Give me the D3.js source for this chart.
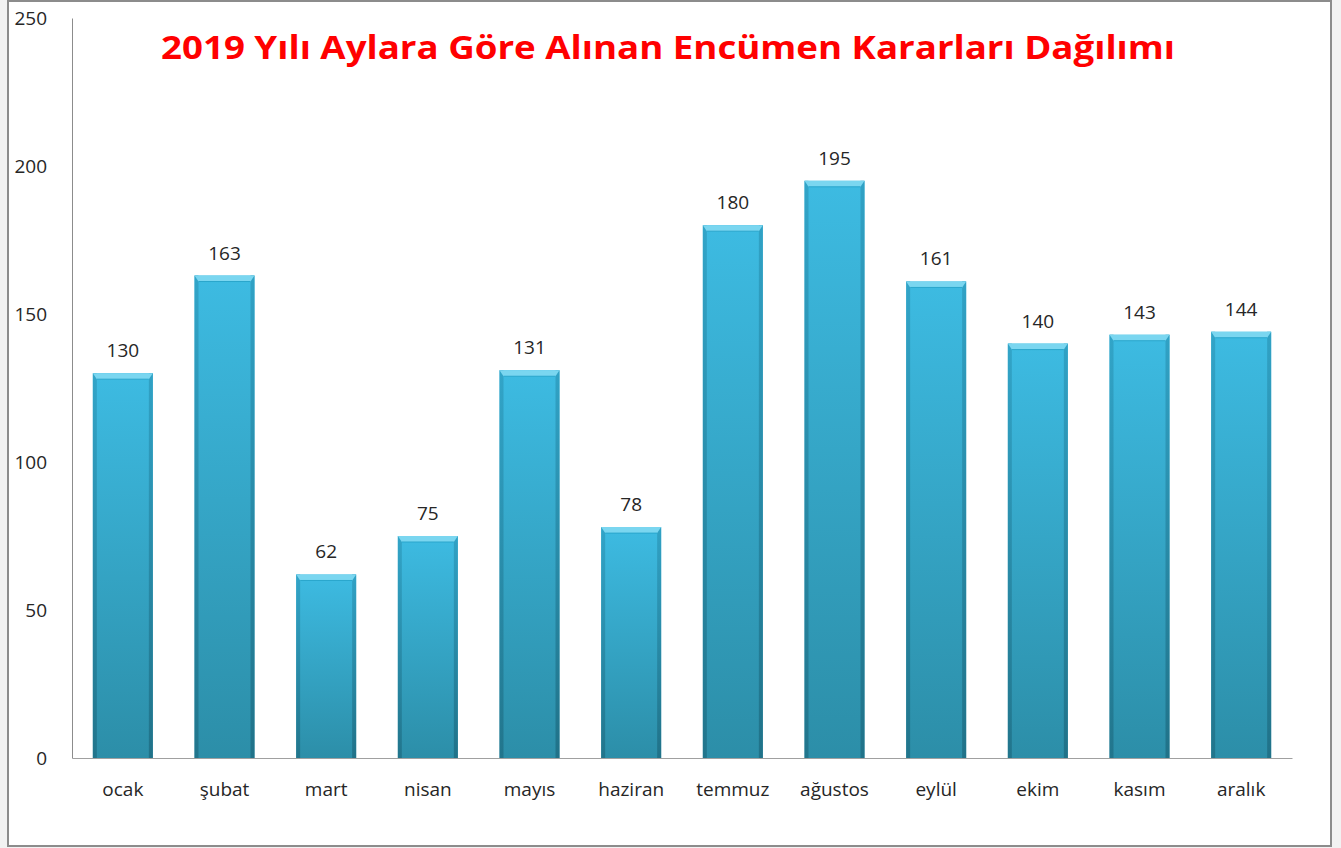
<!DOCTYPE html>
<html>
<head>
<meta charset="utf-8">
<script src="https://cdn.jsdelivr.net/npm/d3@7"></script>
<style>
  html, body { margin: 0; padding: 0; background: #f2f2f2; }
  svg { display: block; font-family: "Open Sans", "Noto Sans", sans-serif; }
</style>
</head>
<body>
<div id="chart"></div>
<script>
// Data
const months = ['ocak', 'şubat', 'mart', 'nisan', 'mayıs', 'haziran',
  'temmuz', 'ağustos', 'eylül', 'ekim', 'kasım', 'aralık'];
const decisions = [130, 163, 62, 75, 131, 78, 180, 195, 161, 140, 143, 144];
const yTicks = [0, 50, 100, 150, 200, 250];
const title = '2019 Yılı Aylara Göre Alınan Encümen Kararları Dağılımı';

const W = 1341, H = 848;
const margin = {top: 18, right: 49, bottom: 90, left: 72};
const innerW = W - margin.left - margin.right;
const innerH = H - margin.top - margin.bottom;
const font = '"Open Sans", "Noto Sans", sans-serif';

const svg = d3.select('#chart').append('svg')
  .attr('width', W).attr('height', H);

// Gradients for the bevelled bars
const defs = svg.append('defs');
const body = defs.append('linearGradient').attr('id', 'barBody')
  .attr('x1', 0).attr('y1', 0).attr('x2', 0).attr('y2', 1);
body.append('stop').attr('offset', '0%').attr('stop-color', '#3dbbe2');
body.append('stop').attr('offset', '100%').attr('stop-color', '#2c8ea8');
const side = defs.append('linearGradient').attr('id', 'barSide')
  .attr('x1', 0).attr('y1', 0).attr('x2', 0).attr('y2', 1);
side.append('stop').attr('offset', '0%').attr('stop-color', '#2f9fc2');
side.append('stop').attr('offset', '100%').attr('stop-color', '#1f6f85');

// Frame
svg.append('rect')
  .attr('x', 8).attr('y', 1).attr('width', 1323).attr('height', 845)
  .attr('fill', '#fff').attr('stroke', '#8c8c8c').attr('stroke-width', 2);

const g = svg.append('g').attr('transform', `translate(${margin.left},${margin.top})`);

const x = d3.scaleBand().domain(months).range([0, innerW]).paddingInner(0.41).paddingOuter(0.205);
const y = d3.scaleLinear().domain([0, 250]).range([innerH, 0]);

// Y axis
const yAxis = g.append('g')
  .call(d3.axisLeft(y).tickValues(yTicks).tickSize(0).tickPadding(25))
  .attr('font-family', font);
yAxis.select('.domain').attr('stroke', '#8c8c8c');
yAxis.selectAll('text').attr('font-size', 19).attr('fill', '#262626');

// X axis
const xAxis = g.append('g').attr('transform', `translate(0,${innerH})`)
  .call(d3.axisBottom(x).tickSize(0).tickPadding(25))
  .attr('font-family', font);
xAxis.select('.domain').attr('stroke', '#a0a0a0');
xAxis.selectAll('text').attr('font-size', 19).attr('fill', '#262626');

// Bars
const bars = g.selectAll('.bar').data(months.map((m, i) => ({m, v: decisions[i]})))
  .enter().append('g').attr('class', 'bar');

const edge = 4, cap = 6;
bars.append('rect')
  .attr('x', d => x(d.m)).attr('y', d => y(d.v))
  .attr('width', x.bandwidth()).attr('height', d => innerH - y(d.v))
  .attr('fill', 'url(#barBody)');
bars.append('rect')
  .attr('x', d => x(d.m)).attr('y', d => y(d.v))
  .attr('width', edge).attr('height', d => innerH - y(d.v))
  .attr('fill', 'url(#barSide)').attr('opacity', 0.8);
bars.append('rect')
  .attr('x', d => x(d.m) + x.bandwidth() - edge).attr('y', d => y(d.v))
  .attr('width', edge).attr('height', d => innerH - y(d.v))
  .attr('fill', 'url(#barSide)').attr('opacity', 0.9);
bars.append('path')
  .attr('d', d => {
    const x0 = x(d.m), x1 = x0 + x.bandwidth(), t = y(d.v);
    return `M${x0},${t}L${x1},${t}L${x1 - edge},${t + cap}L${x0 + edge},${t + cap}Z`;
  })
  .attr('fill', '#7ad6f0');
bars.append('line')
  .attr('x1', d => x(d.m) + edge).attr('x2', d => x(d.m) + x.bandwidth() - edge)
  .attr('y1', d => y(d.v) + cap).attr('y2', d => y(d.v) + cap)
  .attr('stroke', '#2aa6cc').attr('stroke-width', 1);

// Value labels
bars.append('text')
  .attr('x', d => x(d.m) + x.bandwidth() / 2)
  .attr('y', d => y(d.v) - 16)
  .attr('text-anchor', 'middle')
  .attr('font-size', 19).attr('fill', '#262626')
  .text(d => d.v);

// Title
svg.append('text')
  .attr('x', 668).attr('y', 59)
  .attr('text-anchor', 'middle')
  .attr('font-size', 33).attr('font-weight', 'bold').attr('fill', '#ff0000')
  .attr('textLength', 1014).attr('lengthAdjust', 'spacingAndGlyphs')
  .text(title);
</script>
</body>
</html>
